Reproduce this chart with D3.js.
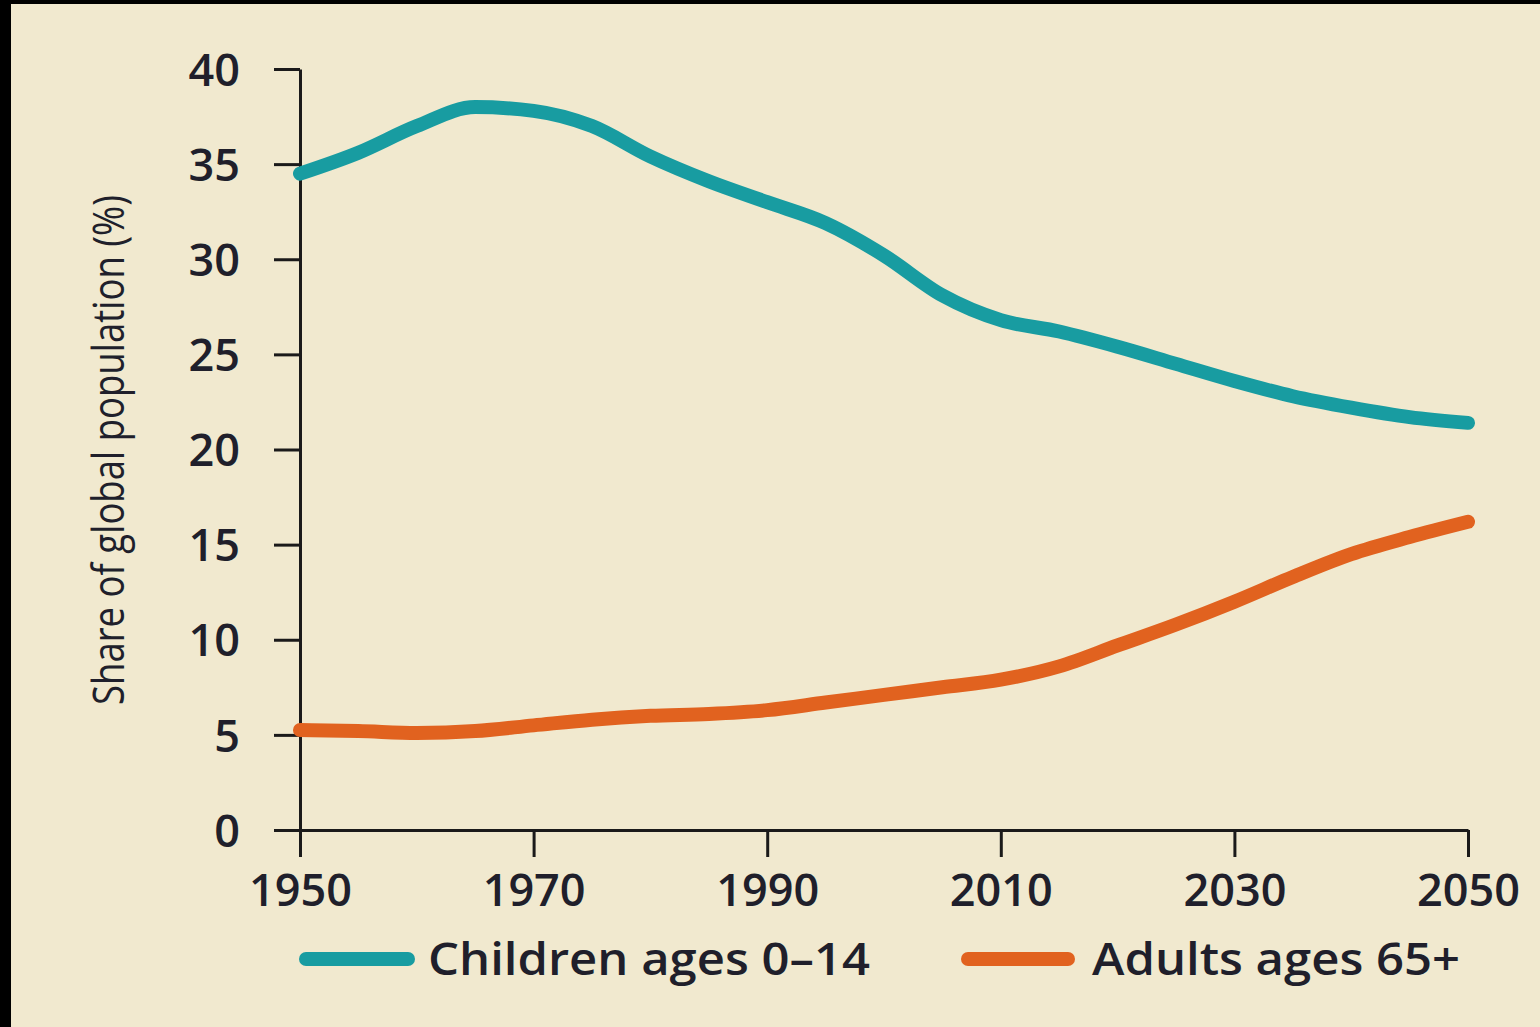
<!DOCTYPE html>
<html>
<head>
<meta charset="utf-8">
<script src="https://cdn.jsdelivr.net/npm/d3@7"></script>
<style>
  html, body { margin: 0; padding: 0; background: #000; }
  svg { display: block; }
</style>
</head>
<body>
<svg id="chart"></svg>
<script>
const years = [1950, 1955, 1960, 1965, 1970, 1975, 1980, 1985, 1990, 1995, 2000,
               2005, 2010, 2015, 2020, 2025, 2030, 2035, 2040, 2045, 2050];
const children = [34.5, 35.6, 37.0, 38.0, 37.8, 37.0, 35.4, 34.1, 33.0, 31.9, 30.2,
                  28.1, 26.8, 26.2, 25.4, 24.5, 23.6, 22.8, 22.2, 21.7, 21.4];
const adults = [5.25, 5.2, 5.1, 5.2, 5.5, 5.8, 6.0, 6.1, 6.3, 6.7, 7.1,
                7.5, 7.9, 8.6, 9.7, 10.8, 12.0, 13.3, 14.5, 15.4, 16.2];
const yTicks = [0, 5, 10, 15, 20, 25, 30, 35, 40];
const xTicks = [1950, 1970, 1990, 2010, 2030, 2050];
const seriesNames = ['Children ages 0\u201314', 'Adults ages 65+'];
const seriesColors = ['#189ca1', '#e1621f'];
const yTitle = 'Share of global population (%)';

const W = 1540, H = 1027;
const textColor = '#201f2b';
const font = '"Open Sans", "Noto Sans", sans-serif';

const svg = d3.select('#chart').attr('width', W).attr('height', H);

// black frame on left and top
svg.append('rect').attr('width', W).attr('height', H).attr('fill', '#000');
svg.append('rect')
  .attr('x', 11).attr('y', 4)
  .attr('width', W - 11).attr('height', H - 4)
  .attr('fill', '#f1e9cf');

const x = d3.scaleLinear().domain([1950, 2050]).range([300, 1468]);
const y = d3.scaleLinear().domain([0, 40]).range([830, 69]);

// axes
const yAxis = svg.append('g')
  .attr('transform', `translate(${x(1950)},0)`)
  .call(d3.axisLeft(y).tickValues(yTicks).tickSize(26).tickSizeOuter(0).tickPadding(34));

const xAxis = svg.append('g')
  .attr('transform', `translate(0,${y(0)})`)
  .call(d3.axisBottom(x).tickValues(xTicks).tickFormat(d3.format('d'))
    .tickSize(27).tickSizeOuter(0).tickPadding(17));

[yAxis, xAxis].forEach(g => {
  g.selectAll('path, line').attr('stroke', '#1b1a1a').attr('stroke-width', 3);
  g.selectAll('text')
    .attr('fill', textColor)
    .style('font-family', font)
    .style('font-weight', 600)
    .style('font-size', '45px');
});
yAxis.selectAll('text').attr('dy', '0.36em');

// y title
svg.append('text')
  .attr('transform', 'translate(124,450) rotate(-90)')
  .attr('text-anchor', 'middle')
  .attr('textLength', 510)
  .attr('lengthAdjust', 'spacingAndGlyphs')
  .attr('fill', textColor)
  .style('font-family', font)
  .style('font-size', '43px')
  .text(yTitle);

// lines
const line = d3.line()
  .x((d, i) => x(years[i]))
  .y(d => y(d))
  .curve(d3.curveMonotoneX);

[children, adults].forEach((vals, i) => {
  svg.append('path')
    .datum(vals)
    .attr('fill', 'none')
    .attr('stroke', seriesColors[i])
    .attr('stroke-width', 14)
    .attr('stroke-linecap', 'round')
    .attr('stroke-linejoin', 'round')
    .attr('d', line);
});

// legend
const legendItems = [
  { x1: 306, x2: 408, tx: 428, len: 442 },
  { x1: 968, x2: 1068, tx: 1092, len: 368 }
];
legendItems.forEach((it, i) => {
  svg.append('line')
    .attr('x1', it.x1).attr('x2', it.x2)
    .attr('y1', 959).attr('y2', 959)
    .attr('stroke', seriesColors[i])
    .attr('stroke-width', 14)
    .attr('stroke-linecap', 'round');
  svg.append('text')
    .attr('x', it.tx).attr('y', 975)
    .attr('textLength', it.len)
    .attr('lengthAdjust', 'spacingAndGlyphs')
    .attr('fill', textColor)
    .style('font-family', font)
    .style('font-weight', 600)
    .style('font-size', '45px')
    .text(seriesNames[i]);
});
</script>
</body>
</html>
